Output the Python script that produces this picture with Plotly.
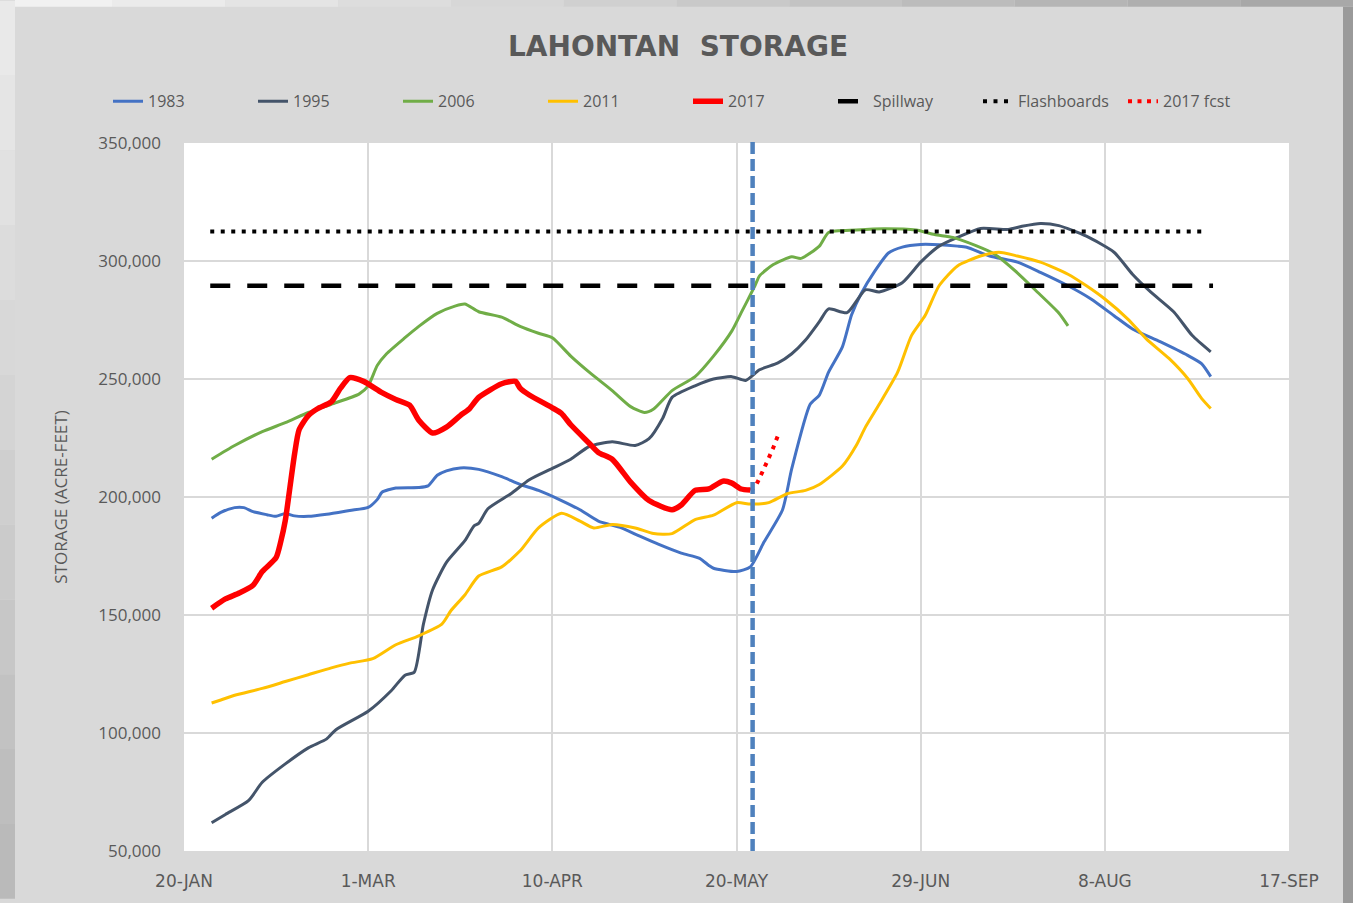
import pandas as pd
import plotly.graph_objects as go

BASE_DATE = "2017-01-20"

# ---- data (day offsets from 20-Jan, storage in acre-feet) ----
days_1983 = [6, 8, 11, 13, 15, 18, 20, 22, 24, 27, 31, 36, 40, 42, 43, 46, 51, 53, 55, 57, 60, 64, 69, 73, 77, 82, 86, 90, 95, 99, 103, 108, 112, 114, 115, 120, 123, 126, 130, 132, 136, 138, 140, 143, 145, 147, 150, 153, 156, 160, 164, 168, 170, 175, 181, 186, 192, 197, 202, 206, 212, 218, 221, 223]
vals_1983 = [191000, 193500, 195500, 195500, 193800, 192500, 191800, 193000, 192000, 191800, 192700, 194300, 195600, 199000, 202000, 203800, 204000, 204700, 209200, 211100, 212300, 211700, 208600, 205300, 202800, 198500, 194600, 189800, 186900, 183400, 180000, 176200, 174000, 171000, 169800, 168400, 170400, 181000, 194600, 212000, 239300, 243200, 252900, 263600, 277200, 285900, 295600, 303400, 305900, 307000, 306900, 306300, 305800, 302100, 299500, 295200, 289500, 283900, 276800, 271200, 265800, 260000, 256500, 251000]

days_1995 = [6, 9, 14, 17, 22, 27, 31, 33, 40, 45, 48, 50, 52, 54, 57, 61, 63, 64, 66, 71, 75, 80, 84, 88, 93, 98, 101, 104, 106, 111, 115, 119, 122, 125, 129, 132, 135, 138, 140, 144, 148, 151, 156, 160, 164, 168, 173, 179, 182, 186, 190, 196, 202, 206, 210, 215, 219, 223]
vals_1995 = [62000, 65500, 71300, 79100, 86900, 93700, 97500, 101400, 109200, 117900, 124500, 125700, 146100, 160700, 172300, 181500, 187800, 188800, 195000, 201400, 207300, 212100, 216000, 221400, 223400, 221800, 224700, 233500, 242200, 247100, 250000, 251000, 249400, 253900, 256800, 260700, 266500, 274300, 279700, 278100, 287800, 286900, 290800, 299500, 306300, 310000, 313800, 313400, 314700, 315900, 315000, 310500, 303700, 294400, 286800, 278400, 268400, 261500]

days_2006 = [6, 11, 17, 22, 27, 32, 38, 40, 42, 44, 48, 51, 55, 59, 61, 64, 69, 73, 77, 80, 84, 88, 93, 97, 100, 102, 106, 111, 115, 119, 121, 124, 125, 128, 132, 134, 138, 140, 146, 152, 159, 163, 167, 172, 176, 181, 185, 190, 192]
vals_2006 = [216000, 221800, 227700, 231500, 235800, 239300, 243600, 247100, 255800, 260700, 267500, 272300, 277800, 281000, 281800, 278500, 276200, 272300, 269400, 267500, 259700, 252900, 245100, 238300, 235800, 237300, 245100, 251000, 259700, 270400, 278000, 289500, 293700, 298500, 301800, 301100, 306300, 312100, 313100, 313700, 313100, 311200, 310000, 306500, 303000, 295000, 287500, 278000, 272500]

days_2011 = [6, 8, 11, 17, 22, 27, 32, 36, 41, 46, 51, 56, 58, 61, 64, 69, 73, 77, 82, 86, 89, 93, 98, 102, 106, 111, 115, 120, 123, 127, 131, 135, 138, 143, 146, 148, 151, 155, 158, 161, 164, 168, 173, 177, 181, 186, 192, 196, 200, 205, 209, 214, 218, 221, 223]
vals_2011 = [112700, 114000, 116000, 118900, 121800, 124700, 127600, 129600, 131500, 137400, 141200, 146100, 151900, 158500, 166500, 170400, 177200, 186900, 193100, 189800, 186900, 188400, 186900, 184500, 184500, 190400, 192300, 197600, 197000, 197600, 201400, 202800, 205300, 213100, 221800, 229600, 239300, 252900, 268400, 277000, 289500, 297900, 302100, 303700, 302100, 299500, 294400, 289500, 283900, 275400, 267000, 258600, 250200, 241800, 237500]

days_2017 = [6, 9, 12, 15, 17, 20, 21, 22, 23, 24, 25, 27, 29, 32, 34, 36, 39, 43, 46, 49, 51, 54, 57, 60, 62, 64, 69, 72, 73, 75, 80, 82, 84, 88, 90, 93, 97, 101, 106, 108, 111, 114, 117, 119, 121, 123]
vals_2017 = [152900, 156800, 159300, 162600, 168400, 174300, 181000, 190000, 204000, 218000, 228500, 234500, 237400, 240300, 246100, 250600, 249000, 244200, 241300, 238900, 232500, 227100, 229600, 234500, 237400, 242200, 248000, 249000, 246100, 243200, 237800, 235400, 230600, 222800, 218900, 216000, 206300, 198500, 194600, 196600, 202800, 203400, 206700, 205900, 203400, 203000]

days_fcst = [123, 124, 125, 126, 127, 128, 129]
vals_fcst = [203000, 204000, 208000, 212000, 216500, 221000, 226000]

SPILLWAY_LEVEL = 289500
FLASHBOARDS_LEVEL = 312500
level_days = [5.7, 223.5]
flash_days = [5.7, 222.3]
VLINE_DAY = 123.5

tick_days = [0, 40, 80, 120, 160, 200, 240]
tick_text = ["20-JAN", "1-MAR", "10-APR", "20-MAY", "29-JUN", "8-AUG", "17-SEP"]
y_ticks = [50000, 100000, 150000, 200000, 250000, 300000, 350000]


def to_dates(days):
    return pd.Timestamp(BASE_DATE) + pd.to_timedelta(days, unit="D")


W, H = 1353, 903
ML, MR, MT, MB = 184, 64, 143, 48
PW, PH = W - ML - MR, H - MT - MB


def px(xp):
    return (xp - ML) / PW


def py(yp):
    return (H - MB - yp) / PH


fig = go.Figure()

series = [
    ("1983", days_1983, vals_1983, "#4472C4", 3),
    ("1995", days_1995, vals_1995, "#44546A", 3),
    ("2006", days_2006, vals_2006, "#70AD47", 3),
    ("2011", days_2011, vals_2011, "#FFC000", 3),
    ("2017", days_2017, vals_2017, "#FF0000", 5.5),
]
for name, d, v, c, w in series:
    fig.add_trace(go.Scatter(x=to_dates(d), y=v, mode="lines", name=name,
                             line=dict(color=c, width=w, shape="spline", smoothing=0.6)))

fig.add_trace(go.Scatter(x=to_dates(level_days), y=[SPILLWAY_LEVEL] * 2, mode="lines",
                         name="Spillway", line=dict(color="black", width=4.5, dash="20px,17px")))
fig.add_trace(go.Scatter(x=to_dates(flash_days), y=[FLASHBOARDS_LEVEL] * 2, mode="lines",
                         name="Flashboards", line=dict(color="black", width=4, dash="4px,6.5px")))
fig.add_trace(go.Scatter(x=to_dates(days_fcst), y=vals_fcst, mode="lines",
                         name="2017 fcst", line=dict(color="#FF0000", width=4, dash="4px,5.5px")))

vdate = to_dates([VLINE_DAY])[0]
shapes = [
    dict(type="line", xref="x", yref="paper", x0=vdate, x1=vdate, y0=0, y1=1.005,
         line=dict(color="#4F81BD", width=4.5, dash="12px,5px"), layer="above"),
]

# outer frame strips (outside the plot area)
nb = 12
for i in range(nb):
    y0p = i * H / nb
    y1p = (i + 1) * H / nb
    g = int(236 - (236 - 184) * (i + 0.5) / nb)
    shapes.append(dict(type="rect", xref="paper", yref="paper", x0=px(-5), x1=px(15),
                       y0=py(y1p), y1=py(y0p), fillcolor=f"rgb({g},{g},{g})", line=dict(width=0), layer="below"))
for i in range(nb):
    x0p = i * W / nb
    x1p = (i + 1) * W / nb
    g = int(245 - (245 - 165) * (i + 0.5) / nb)
    shapes.append(dict(type="rect", xref="paper", yref="paper", x0=px(max(x0p, 15)), x1=px(x1p),
                       y0=py(6), y1=py(-5), fillcolor=f"rgb({g},{g},{g})", line=dict(width=0), layer="below"))
shapes.append(dict(type="rect", xref="paper", yref="paper", x0=px(1343), x1=px(W + 5), y0=py(H + 5), y1=py(6),
                   fillcolor="#9A9A9A", line=dict(width=0), layer="below"))

fig.update_layout(
    width=W, height=H,
    margin=dict(l=ML, r=MR, t=MT, b=MB, pad=0),
    paper_bgcolor="#D9D9D9",
    plot_bgcolor="white",
    title=dict(text="<b>LAHONTAN  STORAGE</b>", x=px(678), xanchor="center", y=1 - 46 / H, yanchor="middle",
               xref="paper",
               font=dict(family="DejaVu Sans, sans-serif", size=28, color="#595959")),
    legend=dict(orientation="h", x=px(108), xanchor="left", y=py(101), yanchor="middle",
                font=dict(family="Open Sans, sans-serif", size=16, color="#595959"),
                bgcolor="rgba(0,0,0,0)", traceorder="normal",
                entrywidth=100, entrywidthmode="pixels"),
    shapes=shapes,
    xaxis=dict(type="date", range=[to_dates([0])[0], to_dates([240])[0]],
               tickvals=to_dates(tick_days), ticktext=tick_text,
               showgrid=True, gridcolor="#D9D9D9", gridwidth=1.5, zeroline=False, showline=False,
               ticks="", ticklabelstandoff=18,
               tickfont=dict(family="DejaVu Sans, sans-serif", size=17, color="#595959")),
    yaxis=dict(range=[50000, 350000], tickvals=y_ticks, tickformat=",d",
               showgrid=True, gridcolor="#D9D9D9", gridwidth=1.5, zeroline=False, showline=False,
               ticks="", ticklabelstandoff=22,
               tickfont=dict(family="Open Sans, sans-serif", size=17, color="#595959"),
               title=dict(text="STORAGE (ACRE-FEET)", standoff=26,
                          font=dict(family="Open Sans, sans-serif", size=17, color="#595959"))),
    showlegend=True,
)

fig.write_html("out.html", config={"displayModeBar": False},
               post_script="document.body.style.margin='0';document.body.style.overflow='hidden';")
